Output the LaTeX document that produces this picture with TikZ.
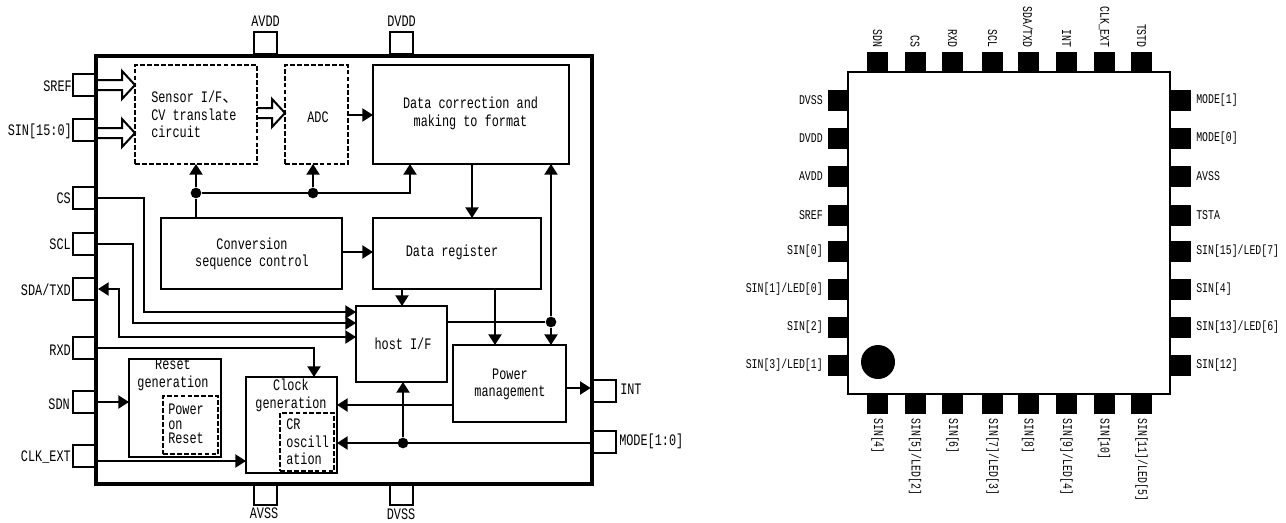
\documentclass[tikz,border=0pt]{standalone}
\usepackage{fontspec}
\setmainfont[FakeStretch=0.74]{Liberation Mono}
\newfontfamily\cjk{Noto Sans CJK JP}
\usetikzlibrary{arrows.meta,calc}
\tikzset{
  blockbox/.style 2 args={draw,line width=1.5pt,inner sep=0pt,outer sep=0pt,minimum width=#1*0.75pt,minimum height=#2*0.75pt},
  dashbox/.style 2 args={blockbox={#1}{#2},dash pattern=on 3.6pt off 1.6pt},
  pinbox/.style={draw,fill=white,line width=1.5pt,inner sep=0pt,outer sep=0pt,minimum width=23*0.75pt,minimum height=22*0.75pt},
  framebox/.style={draw,line width=3pt,inner sep=0pt,outer sep=0pt,minimum width=496*0.75pt,minimum height=428*0.75pt},
  blackpin/.style={fill=black,inner sep=0pt,outer sep=0pt,minimum width=21*0.75pt,minimum height=21*0.75pt},
  dotnode/.style={circle,fill=black,inner sep=0pt,minimum size=8pt},
  conn/.style={line width=1.5pt,-{Triangle[length=8pt,width=9.8pt]}},
  plainconn/.style={line width=1.5pt},
  hollow/.style={line width=1.5pt,to path={
    ($(\tikztostart)+(0,-5)$) -- ($(\tikztotarget)+(-13,-5)$) -- ($(\tikztotarget)+(-13,-14)$)
    -- (\tikztotarget) -- ($(\tikztotarget)+(-13,14)$) -- ($(\tikztotarget)+(-13,5)$) -- ($(\tikztostart)+(0,5)$)}},
  txt/.style={inner sep=0pt,font=\fontsize{12}{13.1}\selectfont},
  pkgtxt/.style={inner sep=0pt,font=\fontsize{10}{11}\selectfont}
}
\begin{document}
\begin{tikzpicture}[x=0.75pt,y=0.75pt,yscale=-1]
\useasboundingbox (0,0) rectangle (1286,522);

% Pins of the block diagram
\node[pinbox] (srefpin) at (84.5,85) {};
\node[pinbox] (sinpin) at (84.5,130) {};
\node[pinbox] (cspin) at (84.5,198) {};
\node[pinbox] (sclpin) at (84.5,244) {};
\node[pinbox] (sdapin) at (84.5,289) {};
\node[pinbox] (rxdpin) at (84.5,348) {};
\node[pinbox] (sdnpin) at (84.5,402) {};
\node[pinbox] (clkpin) at (84.5,456) {};
\node[pinbox] (intpin) at (604.5,391) {};
\node[pinbox] (modepin) at (604.5,442) {};
\node[pinbox] (avddpin) at (265.5,43) {};
\node[pinbox] (dvddpin) at (401.5,43) {};
\node[pinbox] (avsspin) at (265.5,494) {};
\node[pinbox] (dvsspin) at (401.5,494) {};

% Blocks
\node[dashbox={122}{99}] (sensor) at (196,114.5) {};
\node[dashbox={63}{99}] (adc) at (316.5,114.5) {};
\node[blockbox={196}{99}] (correct) at (471,114.5) {};
\node[blockbox={181}{71}] (conv) at (251.5,253.5) {};
\node[blockbox={168}{71}] (dreg) at (457,253.5) {};
\node[blockbox={91}{76}] (host) at (401.5,344) {};
\node[blockbox={113}{77}] (power) at (509.5,383.5) {};
\node[blockbox={92}{98}] (reset) at (175,408) {};
\node[dashbox={55}{58}] (por) at (190.5,425) {};
\node[blockbox={91}{96}] (clock) at (291.5,425) {};
\node[dashbox={54}{58}] (cro) at (307,442) {};

% Text Node
\node[txt,anchor=east] (sreflbl) at (72,86) {SREF};
\node[txt,anchor=east] (sinlbl) at (72,131) {SIN[15:0]};
\node[txt,anchor=east] (cslbl) at (71,198) {CS};
\node[txt,anchor=east] (scllbl) at (71,244) {SCL};
\node[txt,anchor=east] (sdalbl) at (71,290) {SDA/TXD};
\node[txt,anchor=east] (rxdlbl) at (71,350) {RXD};
\node[txt,anchor=east] (sdnlbl) at (70,404) {SDN};
\node[txt,anchor=east] (clklbl) at (71,457) {CLK\_EXT};
\node[txt,anchor=west] (intlbl) at (620,389) {INT};
\node[txt,anchor=west] (modelbl) at (619,441) {MODE[1:0]};
\node[txt] (avddlbl) at (265.5,21) {AVDD};
\node[txt] (dvddlbl) at (401.5,21) {DVDD};
\node[txt] (avsslbl) at (264,513) {AVSS};
\node[txt] (dvsslbl) at (401,514) {DVSS};
\node[txt,anchor=west,align=left] (sensorlbl) at (151,114.5) {Sensor I/F{\cjk 、}\\CV translate\\circuit};
\node[txt] (adclbl) at (318,117) {ADC};
\node[txt,align=center] (correctlbl) at (470.5,113.5) {Data correction and\\making to format};
\node[txt,align=center] (convlbl) at (252,254) {Conversion\\sequence control};
\node[txt] (dreglbl) at (452,252.5) {Data register};
\node[txt] (hostlbl) at (403,344) {host I/F};
\node[txt,align=center] (powerlbl) at (510,384.5) {Power\\management};
\node[txt,align=center] (resetlbl) at (173,375) {Reset\\generation};
\node[txt,align=left,anchor=west,font=\fontsize{12}{10.9}\selectfont] (porlbl) at (168,424) {Power\\on\\Reset};
\node[txt,align=center] (clocklbl) at (291,395.5) {Clock\\generation};
\node[txt,align=left,anchor=west] (crolbl) at (286,442) {CR\\oscill\\ation};

% Junctions
\node[dotnode] (d1) at (196,193) {};
\node[dotnode] (d2) at (313,193) {};
\node[dotnode] (d3) at (551,322) {};
\node[dotnode] (d4) at (403,443) {};

% Hollow arrows
\coordinate (a1) at (135,85);
\coordinate (a2) at (135,133);
\coordinate (a3) at (285,113);
\draw[hollow] (srefpin.east) to (a1);
\draw[hollow] (sinpin.east |- a2) to (a2);
\draw[hollow] (sensor.east |- a3) to (a3);

% Straight Lines
\draw[plainconn] (conv.north -| d1) -- (d1);
\draw[conn] (d1) -- (d1 |- sensor.south);
\draw[conn] (d2) -- (d2 |- adc.south);
\coordinate (a4) at (410,193);
\draw[conn] (d1) -- (a4) -- (a4 |- correct.south);
\coordinate (a5) at (373,115);
\draw[conn] (a5 -| adc.east) -- (a5);
\coordinate (a11) at (373,252);
\draw[conn] (a11 -| conv.east) -- (a11);
\coordinate (a6) at (472,164);
\draw[conn] (a6) -- (a6 |- dreg.north);
\coordinate (a7) at (402,289);
\draw[conn] (a7) -- (a7 |- host.north);
\coordinate (a8) at (495,289);
\draw[conn] (a8) -- (a8 |- power.north);
\draw[plainconn] (host.east |- d3) -- (d3);
\draw[conn] (d3) -- (d3 |- correct.south);
\draw[conn] (d3) -- (d3 |- power.north);
\coordinate (a9) at (592,388);
\draw[conn,shorten >=1pt] (power.east |- a9) -- (a9);
\coordinate (a10) at (337,405);
\draw[conn] (power.west |- a10) -- (a10);
\draw[conn] (modepin.west |- d4) -- (clock.east |- d4);
\draw[conn] (d4) -- (d4 |- host.south);
% host side
\coordinate (c1) at (144,312);
\coordinate (c2) at (133,323);
\coordinate (c3) at (119,337);
\coordinate (c4) at (314,348);
\draw[conn] (cspin.east) -| (c1) -- (c1 -| host.west);
\draw[conn] (sclpin.east) -| (c2) -- (c2 -| host.west);
\draw[conn,{Triangle[length=8pt,width=9.8pt]}-{Triangle[length=8pt,width=9.8pt]},shorten <=1.5pt] (sdapin.east) -| (c3) -- (c3 -| host.west);
\draw[conn] (rxdpin.east) -| (c4 |- clock.north);
\draw[conn] (sdnpin.east) -- (reset.west |- sdnpin.east);
\coordinate (c5) at (246,461);
\draw[conn] (clkpin.east |- c5) -- (c5);

% Chip frame
\node[framebox] (chip) at (344,270) {};

% Package outline
\node[draw,line width=1.5pt,inner sep=0pt,outer sep=0pt,minimum width=322*0.75pt,minimum height=322*0.75pt] (pkg) at (1009,233) {};
\node[circle,fill=black,inner sep=0pt,minimum size=25.5pt] (pinone) at (878,362) {};
\foreach \y/\lab [count=\i] in {100.5/DVSS,138.5/DVDD,176/AVDD,215.5/SREF,251.5/{SIN[0]},289.5/{SIN[1]/LED[0]},327.5/{SIN[2]},365/{SIN[3]/LED[1]}}{
  \node[blackpin] (lp\i) at (838.5,\y) {};
  \node[pkgtxt,anchor=east] (ll\i) at (823,\y) {\lab};
}
\foreach \y/\lab [count=\i] in {100.5/{MODE[1]},138.5/{MODE[0]},176/AVSS,215.5/TSTA,251.5/{SIN[15]/LED[7]},289.5/{SIN[4]},327.5/{SIN[13]/LED[6]},365/{SIN[12]}}{
  \node[blackpin] (rp\i) at (1180,\y) {};
  \node[pkgtxt,anchor=west] (rl\i) at (1196,\y) {\lab};
}
\foreach \x/\lab [count=\i] in {877.5/SDN,915/CS,952.5/RXD,992.5/SCL,1028/{SDA/TXD},1066.5/INT,1104/CLK\_EXT,1141.5/TSTD}{
  \node[blackpin] (tp\i) at (\x,62.5) {};
  \node[pkgtxt,rotate=-90,anchor=east] (tl\i) at (\x,48) {\lab};
}
\foreach \x/\lab [count=\i] in {877.5/{SIN[4]},915/{SIN[5]/LED[2]},952.5/{SIN[6]},992.5/{SIN[7]/LED[3]},1028/{SIN[8]},1066.5/{SIN[9]/LED[4]},1104/{SIN[10]},1141.5/{SIN[11]/LED[5]}}{
  \node[blackpin] (bp\i) at (\x,403.5) {};
  \node[pkgtxt,rotate=-90,anchor=west] (bl\i) at (\x,418) {\lab};
}

\end{tikzpicture}
\end{document}
